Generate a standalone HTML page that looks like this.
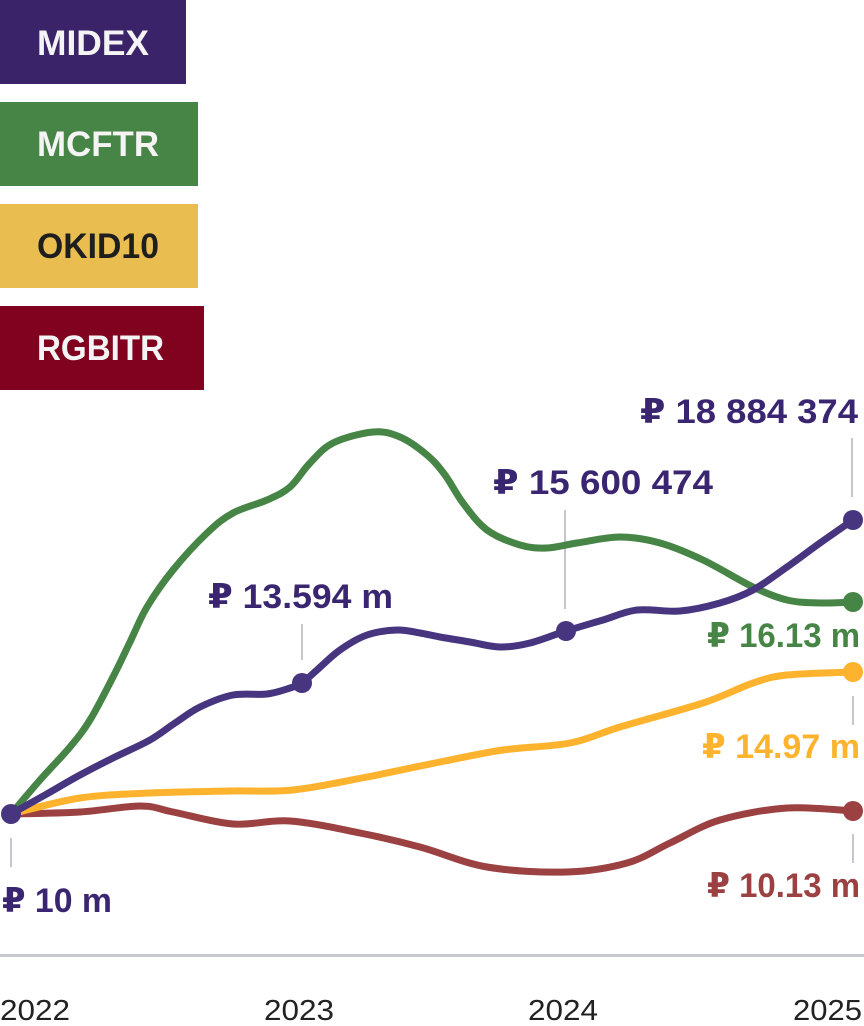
<!DOCTYPE html>
<html>
<head>
<meta charset="utf-8">
<style>
html,body{margin:0;padding:0;background:#fff;}
body{width:864px;height:1026px;overflow:hidden;}
svg{display:block;}
text{font-family:"Liberation Sans","DejaVu Sans",sans-serif;}
.lab{font-size:34px;font-weight:bold;}
.leg{font-size:35px;font-weight:bold;}
.yr{font-size:29px;fill:#222;}
</style>
</head>
<body>
<svg width="864" height="1026" viewBox="0 0 864 1026" xmlns="http://www.w3.org/2000/svg">
  <!-- legend -->
  <rect x="0" y="0" width="186" height="84" fill="#3b2369"/>
  <text class="leg" x="37" y="55" fill="#f4f4f4" textLength="112" lengthAdjust="spacingAndGlyphs">MIDEX</text>
  <rect x="0" y="102" width="198" height="84" fill="#478546"/>
  <text class="leg" x="37" y="156" fill="#f4f4f4" textLength="122" lengthAdjust="spacingAndGlyphs">MCFTR</text>
  <rect x="0" y="204" width="198" height="84" fill="#e9bd4f"/>
  <text class="leg" x="37" y="258" fill="#1e1e1e" textLength="122" lengthAdjust="spacingAndGlyphs">OKID10</text>
  <rect x="0" y="306" width="204" height="84" fill="#80021f"/>
  <text class="leg" x="37" y="360" fill="#f4f4f4" textLength="127" lengthAdjust="spacingAndGlyphs">RGBITR</text>

  <!-- axis -->
  <rect x="0" y="954" width="864" height="3" fill="#c6c7cf"/>
  <text class="yr" x="0" y="1020" textLength="70" lengthAdjust="spacingAndGlyphs">2022</text>
  <text class="yr" x="264" y="1020" textLength="70" lengthAdjust="spacingAndGlyphs">2023</text>
  <text class="yr" x="528" y="1020" textLength="70" lengthAdjust="spacingAndGlyphs">2024</text>
  <text class="yr" x="793" y="1020" textLength="69" lengthAdjust="spacingAndGlyphs">2025</text>

  <!-- tick marks -->
  <g fill="#c5c6cf">
    <rect x="10" y="838" width="2" height="29"/>
    <rect x="301" y="624" width="2" height="36"/>
    <rect x="564" y="510" width="2" height="99"/>
    <rect x="851" y="438" width="2" height="59"/>
    <rect x="852" y="696" width="2" height="29"/>
    <rect x="852" y="834" width="2" height="29"/>
  </g>

  <!-- series -->
  <g fill="none" stroke-width="7" stroke-linecap="round" stroke-linejoin="round">
    <path id="red" stroke="#9b4141" data-pts="11,814 80,812 140,806 173,812 233,824 290,821 360,833 420,847 487,867 567,872 627,863 670,843 720,820 787,808 853,811"/>
    <path id="yel" stroke="#fdb32d" data-pts="11,814 80,798 150,793 230,791 293,790 367,777 440,762 503,750 570,743 620,727 703,703 753,683 787,675 853,672"/>
    <path id="grn" stroke="#468545" data-pts="11,814 40,780 70,747 90,720 113,677 130,642 147,607 173,570 207,533 233,513 267,500 290,487 310,463 333,443 373,432 400,437 427,455 445,475 463,503 487,530 520,545 547,548 577,543 620,537 660,543 703,560 753,587 787,600 820,603 853,602"/>
    <path id="pur" stroke="#47357f" data-pts="11,814 45,795 80,775 115,757 150,740 175,723 200,707 233,695 267,694 290,688 302,683 317,670 340,650 367,635 397,630 420,633 440,637 470,642 500,647 530,643 566,631 603,620 637,610 680,611 720,603 753,590 787,567 820,543 853,520"/>
  </g>

  <!-- dots -->
  <circle cx="853" cy="811" r="10" fill="#9b4141"/>
  <circle cx="853" cy="672" r="10" fill="#fdb32d"/>
  <circle cx="853" cy="602" r="10" fill="#468545"/>
  <circle cx="853" cy="520" r="10" fill="#47357f"/>
  <circle cx="566" cy="631" r="10" fill="#47357f"/>
  <circle cx="302" cy="683" r="10" fill="#47357f"/>
  <circle cx="11" cy="814" r="10" fill="#47357f"/>

  <!-- value labels -->
  <text class="lab" x="2" y="912" fill="#3a2570" textLength="110" lengthAdjust="spacingAndGlyphs">₽ 10 m</text>
  <text class="lab" x="208" y="608" fill="#3a2570" textLength="185" lengthAdjust="spacingAndGlyphs">₽ 13.594 m</text>
  <text class="lab" x="493" y="494" fill="#3a2570" textLength="220" lengthAdjust="spacingAndGlyphs">₽ 15 600 474</text>
  <text class="lab" x="640" y="423" fill="#3a2570" textLength="218" lengthAdjust="spacingAndGlyphs">₽ 18 884 374</text>
  <text class="lab" x="707" y="647" fill="#468545" textLength="153" lengthAdjust="spacingAndGlyphs">₽ 16.13 m</text>
  <text class="lab" x="702" y="758" fill="#fdb32d" textLength="158" lengthAdjust="spacingAndGlyphs">₽ 14.97 m</text>
  <text class="lab" x="707" y="897" fill="#9b4141" textLength="153" lengthAdjust="spacingAndGlyphs">₽ 10.13 m</text>
</svg>
<script>
(function(){
  var ids=["red","yel","grn","pur"];
  ids.forEach(function(id){
    var el=document.getElementById(id);
    var pts=el.getAttribute("data-pts").split(" ").map(function(p){var a=p.split(",");return [+a[0],+a[1]];});
    var d="M"+pts[0][0]+","+pts[0][1];
    for(var i=0;i<pts.length-1;i++){
      var p0=pts[i-1]||pts[i],p1=pts[i],p2=pts[i+1],p3=pts[i+2]||pts[i+1];
      var c1x=p1[0]+(p2[0]-p0[0])/6,c1y=p1[1]+(p2[1]-p0[1])/6;
      var c2x=p2[0]-(p3[0]-p1[0])/6,c2y=p2[1]-(p3[1]-p1[1])/6;
      d+=" C"+c1x.toFixed(1)+","+c1y.toFixed(1)+" "+c2x.toFixed(1)+","+c2y.toFixed(1)+" "+p2[0]+","+p2[1];
    }
    el.setAttribute("d",d);
  });
})();
</script>
<noscript></noscript>
</body>
</html>
